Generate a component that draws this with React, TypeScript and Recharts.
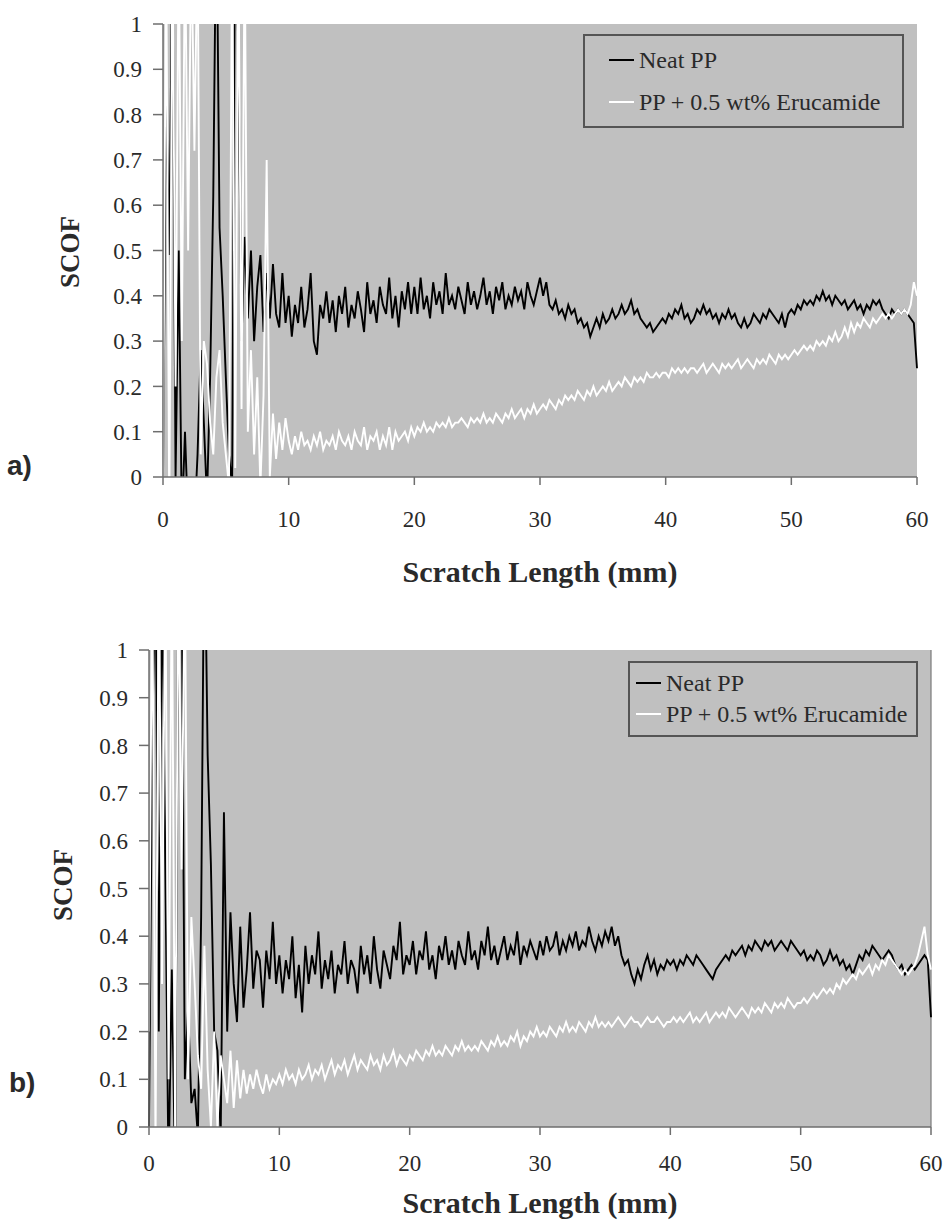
import React from 'react';
import { LineChart, Line, XAxis, YAxis, CartesianGrid, Legend, ReferenceLine } from 'recharts';

// Sampling grid of scratch length (mm), 0.25 mm spacing, 0..60
const X_STEP_MM = 0.25;
const X_COUNT = 241;
const xGrid: number[] = Array.from({ length: X_COUNT }, (_, i) => i * X_STEP_MM);

const xTicks = [0, 10, 20, 30, 40, 50, 60];
const yTicks = [0, 0.1, 0.2, 0.3, 0.4, 0.5, 0.6, 0.7, 0.8, 0.9, 1];

const seriesNames = ['Neat PP', 'PP + 0.5 wt% Erucamide'];

// ---- Panel a) ----
const aNeat0 = [0.0, 0.85, 0.49, 1.2, 0.0, 0.5, -0.1, 0.1, -0.1, -0.1, -0.1, 0.05, 0.28, 0.12, -0.05, 0.22, 0.62, 1.3, 0.55, 0.4, 0.22, 0.05, -0.02, 1.3, 0.93, 0.3, 0.53, 0.35, 0.5, 0.3, 0.42, 0.49, 0.32, 0.45, 0.35, 0.47, 0.36, 0.33, 0.45, 0.34];
const aNeat10 = [0.40, 0.31, 0.38, 0.34, 0.42, 0.33, 0.37, 0.45, 0.30, 0.27, 0.38, 0.35, 0.41, 0.34, 0.39, 0.32, 0.40, 0.36, 0.42, 0.33, 0.38, 0.35, 0.41, 0.37, 0.32, 0.43, 0.36, 0.39, 0.34, 0.42, 0.38, 0.36, 0.44, 0.35, 0.40, 0.33, 0.41, 0.37, 0.43, 0.36];
const aNeat20 = [0.42, 0.36, 0.44, 0.37, 0.40, 0.35, 0.43, 0.38, 0.41, 0.36, 0.45, 0.38, 0.40, 0.37, 0.42, 0.39, 0.36, 0.43, 0.38, 0.41, 0.37, 0.40, 0.44, 0.38, 0.41, 0.36, 0.42, 0.39, 0.43, 0.37, 0.40, 0.38, 0.42, 0.39, 0.41, 0.37, 0.43, 0.40, 0.38, 0.41];
const aNeat30 = [0.44, 0.40, 0.43, 0.38, 0.37, 0.39, 0.36, 0.37, 0.35, 0.38, 0.36, 0.37, 0.34, 0.35, 0.33, 0.34, 0.31, 0.33, 0.35, 0.33, 0.36, 0.34, 0.35, 0.37, 0.35, 0.36, 0.38, 0.36, 0.37, 0.39, 0.36, 0.37, 0.35, 0.34, 0.33, 0.34, 0.32, 0.33, 0.34, 0.35];
const aNeat40 = [0.34, 0.36, 0.35, 0.37, 0.36, 0.38, 0.35, 0.36, 0.34, 0.35, 0.37, 0.36, 0.38, 0.36, 0.37, 0.35, 0.36, 0.34, 0.36, 0.35, 0.37, 0.35, 0.36, 0.34, 0.33, 0.35, 0.33, 0.34, 0.36, 0.35, 0.34, 0.36, 0.35, 0.37, 0.36, 0.35, 0.34, 0.36, 0.33, 0.36];
const aNeat50 = [0.37, 0.36, 0.38, 0.37, 0.39, 0.38, 0.39, 0.38, 0.40, 0.39, 0.41, 0.39, 0.40, 0.38, 0.40, 0.39, 0.38, 0.39, 0.37, 0.38, 0.39, 0.37, 0.38, 0.36, 0.38, 0.37, 0.39, 0.38, 0.39, 0.37, 0.36, 0.35, 0.37, 0.36, 0.37, 0.36, 0.37, 0.36, 0.35, 0.34, 0.24];

const aEru0 = [0.0, 1.2, -0.1, 1.2, 0.2, 1.2, 0.3, 1.2, 0.5, 1.2, 0.72, 1.2, 0.05, 0.3, 0.25, 0.12, 0.05, 0.22, 0.28, 0.12, 0.05, -0.02, 1.2, 0.02, 1.2, 0.15, 1.2, 0.1, 0.28, 0.05, 0.22, -0.02, 0.18, 0.7, 0.0, 0.14, 0.04, 0.12, 0.06, 0.13];
const aEru10 = [0.08, 0.05, 0.09, 0.06, 0.10, 0.07, 0.08, 0.06, 0.09, 0.07, 0.10, 0.06, 0.08, 0.07, 0.09, 0.06, 0.10, 0.08, 0.07, 0.09, 0.06, 0.10, 0.08, 0.07, 0.11, 0.06, 0.09, 0.08, 0.10, 0.06, 0.09, 0.07, 0.11, 0.06, 0.10, 0.08, 0.09, 0.10, 0.08, 0.11];
const aEru20 = [0.09, 0.11, 0.10, 0.12, 0.10, 0.11, 0.10, 0.12, 0.11, 0.12, 0.11, 0.13, 0.11, 0.12, 0.12, 0.13, 0.12, 0.11, 0.13, 0.12, 0.13, 0.12, 0.14, 0.12, 0.13, 0.12, 0.14, 0.13, 0.12, 0.14, 0.13, 0.15, 0.13, 0.14, 0.15, 0.13, 0.15, 0.14, 0.16, 0.14];
const aEru30 = [0.15, 0.16, 0.15, 0.17, 0.16, 0.15, 0.17, 0.16, 0.18, 0.17, 0.18, 0.17, 0.19, 0.18, 0.17, 0.19, 0.18, 0.20, 0.18, 0.19, 0.20, 0.19, 0.21, 0.19, 0.20, 0.21, 0.20, 0.22, 0.21, 0.20, 0.22, 0.21, 0.22, 0.21, 0.23, 0.22, 0.22, 0.23, 0.22, 0.23];
const aEru40 = [0.23, 0.22, 0.24, 0.23, 0.24, 0.23, 0.24, 0.23, 0.24, 0.24, 0.23, 0.24, 0.25, 0.23, 0.24, 0.25, 0.24, 0.23, 0.25, 0.24, 0.25, 0.24, 0.25, 0.26, 0.24, 0.25, 0.26, 0.25, 0.24, 0.26, 0.25, 0.26, 0.25, 0.27, 0.26, 0.25, 0.27, 0.26, 0.27, 0.26];
const aEru50 = [0.27, 0.28, 0.27, 0.28, 0.29, 0.28, 0.29, 0.28, 0.30, 0.29, 0.30, 0.29, 0.31, 0.30, 0.32, 0.30, 0.31, 0.33, 0.31, 0.34, 0.32, 0.34, 0.33, 0.35, 0.34, 0.33, 0.35, 0.34, 0.35, 0.36, 0.35, 0.36, 0.35, 0.36, 0.37, 0.36, 0.37, 0.36, 0.38, 0.43, 0.40];

// ---- Panel b) ----
const bNeat0 = [0.0, 0.81, 1.2, 0.2, 1.2, 0.55, -0.1, 0.33, -0.1, 1.2, 1.2, 0.1, 0.25, 0.05, 0.08, -0.02, 0.44, 1.3, 0.78, 0.55, 0.2, 0.16, -0.02, 0.66, 0.2, 0.45, 0.30, 0.22, 0.42, 0.25, 0.33, 0.45, 0.29, 0.37, 0.35, 0.25, 0.37, 0.31, 0.43, 0.30];
const bNeat10 = [0.36, 0.28, 0.35, 0.31, 0.40, 0.27, 0.34, 0.24, 0.38, 0.30, 0.36, 0.32, 0.41, 0.29, 0.35, 0.31, 0.37, 0.28, 0.34, 0.32, 0.39, 0.30, 0.35, 0.33, 0.28, 0.38, 0.32, 0.36, 0.30, 0.40, 0.33, 0.29, 0.37, 0.34, 0.31, 0.38, 0.35, 0.43, 0.32, 0.36];
const bNeat20 = [0.34, 0.39, 0.32, 0.37, 0.35, 0.41, 0.33, 0.36, 0.31, 0.38, 0.35, 0.40, 0.34, 0.37, 0.33, 0.39, 0.36, 0.34, 0.41, 0.35, 0.37, 0.33, 0.39, 0.36, 0.42, 0.35, 0.38, 0.34, 0.37, 0.40, 0.35, 0.38, 0.36, 0.41, 0.34, 0.38, 0.36, 0.39, 0.37, 0.35];
const bNeat30 = [0.39, 0.36, 0.40, 0.37, 0.38, 0.41, 0.36, 0.39, 0.37, 0.40, 0.38, 0.41, 0.37, 0.39, 0.38, 0.42, 0.39, 0.37, 0.40, 0.38, 0.41, 0.39, 0.42, 0.38, 0.40, 0.36, 0.34, 0.35, 0.32, 0.30, 0.33, 0.31, 0.34, 0.36, 0.33, 0.35, 0.32, 0.34, 0.33, 0.35];
const bNeat40 = [0.34, 0.35, 0.33, 0.35, 0.34, 0.36, 0.35, 0.34, 0.36, 0.35, 0.34, 0.33, 0.32, 0.31, 0.33, 0.34, 0.35, 0.36, 0.35, 0.37, 0.36, 0.37, 0.38, 0.36, 0.38, 0.37, 0.39, 0.38, 0.37, 0.39, 0.38, 0.39, 0.37, 0.38, 0.39, 0.38, 0.37, 0.39, 0.38, 0.37];
const bNeat50 = [0.36, 0.37, 0.35, 0.36, 0.35, 0.37, 0.36, 0.34, 0.35, 0.37, 0.35, 0.36, 0.34, 0.35, 0.33, 0.34, 0.32, 0.34, 0.36, 0.35, 0.37, 0.36, 0.38, 0.37, 0.36, 0.35, 0.36, 0.37, 0.36, 0.34, 0.33, 0.34, 0.32, 0.33, 0.34, 0.33, 0.34, 0.35, 0.36, 0.35, 0.23];

const bEru0 = [0.2, 1.2, -0.05, 1.2, 0.3, 1.2, 0.1, 1.2, 0.0, 1.2, 0.54, 1.2, 0.1, 0.44, 0.3, 0.15, 0.08, 0.38, 0.12, 0.0, 0.2, 0.0, 0.15, 0.1, 0.05, 0.16, 0.04, 0.14, 0.06, 0.12, 0.07, 0.11, 0.08, 0.12, 0.09, 0.07, 0.11, 0.08, 0.10, 0.09];
const bEru10 = [0.11, 0.09, 0.12, 0.10, 0.11, 0.09, 0.12, 0.10, 0.11, 0.13, 0.10, 0.12, 0.11, 0.13, 0.10, 0.12, 0.14, 0.11, 0.13, 0.12, 0.14, 0.11, 0.13, 0.15, 0.12, 0.14, 0.13, 0.12, 0.15, 0.13, 0.14, 0.12, 0.15, 0.13, 0.14, 0.16, 0.13, 0.15, 0.14, 0.13];
const bEru20 = [0.15, 0.14, 0.16, 0.15, 0.14, 0.16, 0.15, 0.17, 0.15, 0.16, 0.15, 0.17, 0.16, 0.15, 0.17, 0.16, 0.18, 0.16, 0.17, 0.16, 0.17, 0.16, 0.18, 0.17, 0.16, 0.18, 0.17, 0.19, 0.17, 0.18, 0.17, 0.19, 0.18, 0.20, 0.17, 0.19, 0.18, 0.20, 0.19, 0.21];
const bEru30 = [0.19, 0.20, 0.19, 0.21, 0.20, 0.19, 0.21, 0.20, 0.22, 0.20, 0.21, 0.20, 0.22, 0.21, 0.20, 0.22, 0.21, 0.23, 0.21, 0.22, 0.21, 0.22, 0.21, 0.22, 0.23, 0.22, 0.21, 0.22, 0.23, 0.22, 0.22, 0.21, 0.22, 0.23, 0.22, 0.22, 0.23, 0.22, 0.21, 0.22];
const bEru40 = [0.22, 0.23, 0.22, 0.23, 0.22, 0.23, 0.24, 0.22, 0.23, 0.22, 0.23, 0.24, 0.22, 0.23, 0.24, 0.23, 0.24, 0.23, 0.25, 0.24, 0.23, 0.24, 0.25, 0.24, 0.23, 0.25, 0.24, 0.25, 0.24, 0.26, 0.25, 0.24, 0.26, 0.25, 0.26, 0.25, 0.27, 0.26, 0.25, 0.26];
const bEru50 = [0.26, 0.27, 0.26, 0.27, 0.28, 0.27, 0.28, 0.29, 0.28, 0.29, 0.28, 0.30, 0.29, 0.31, 0.30, 0.31, 0.32, 0.31, 0.33, 0.32, 0.33, 0.34, 0.32, 0.34, 0.33, 0.35, 0.34, 0.36, 0.35, 0.34, 0.33, 0.32, 0.33, 0.32, 0.33, 0.34, 0.36, 0.39, 0.42, 0.36, 0.33];

const aNeat = [...aNeat0, ...aNeat10, ...aNeat20, ...aNeat30, ...aNeat40, ...aNeat50];
const aEru = [...aEru0, ...aEru10, ...aEru20, ...aEru30, ...aEru40, ...aEru50];
const bNeat = [...bNeat0, ...bNeat10, ...bNeat20, ...bNeat30, ...bNeat40, ...bNeat50];
const bEru = [...bEru0, ...bEru10, ...bEru20, ...bEru30, ...bEru40, ...bEru50];

const buildRows = (neat: number[], eru: number[]) =>
  xGrid.map((x, i) => ({ x, neat: neat[i], eru: eru[i] }));

const dataA = buildRows(aNeat, aEru);
const dataB = buildRows(bNeat, bEru);

const SERIF = '"Liberation Serif", "Times New Roman", serif';
const PLOT_BG = '#c0c0c0';
const AXIS_COLOR = '#6e6e6e';
const TEXT_COLOR = '#2a2a2a';

type LegendGeom = {
  left: number; top: number; width: number; height: number;
  row1: number; row2: number; lineX: number; textX: number;
};

const makeLegend = (g: LegendGeom) => (props: any) => {
  const payload = props.payload || [];
  const rows = [g.row1, g.row2];
  return (
    <div style={{
      position: 'relative', width: g.width, height: g.height, boxSizing: 'border-box',
      border: '2px solid #555555', background: PLOT_BG, fontFamily: SERIF, fontSize: 24, color: TEXT_COLOR,
    }}>
      {payload.map((p: any, i: number) => (
        <div key={i} style={{ position: 'absolute', left: 0, top: rows[i] - 15, height: 30, width: '100%' }}>
          <div style={{ position: 'absolute', left: g.lineX, top: 14, width: 25, height: 2, background: p.color }} />
          <div style={{ position: 'absolute', left: g.textX, top: 0, lineHeight: '30px', whiteSpace: 'nowrap' }}>{p.value}</div>
        </div>
      ))}
    </div>
  );
};

type PanelProps = {
  data: any[];
  top: number;
  height: number;
  margin: { top: number; right: number; bottom: number; left: number };
  yWidth: number;
  xHeight: number;
  xTickMargin: number;
  legend: LegendGeom;
  rightEdge?: boolean;
};

const tickStyle = { fill: TEXT_COLOR, fontSize: 23, fontFamily: SERIF };

const Panel = ({ data, top, height, margin, yWidth, xHeight, xTickMargin, legend, rightEdge }: PanelProps) => (
  <div style={{ position: 'absolute', left: 0, top, width: 949, height }}>
    <LineChart width={949} height={height} data={data} margin={margin}>
      <CartesianGrid horizontal={false} vertical={false} fill={PLOT_BG} stroke="none" />
      <XAxis
        type="number"
        dataKey="x"
        domain={[0, 60]}
        ticks={xTicks}
        height={xHeight}
        tickSize={8}
        tickMargin={xTickMargin}
        stroke={AXIS_COLOR}
        strokeWidth={1.5}
        tick={tickStyle}
      />
      <YAxis
        type="number"
        domain={[0, 1]}
        allowDataOverflow
        ticks={yTicks}
        width={yWidth}
        tickSize={10}
        tickMargin={11}
        stroke={AXIS_COLOR}
        strokeWidth={1.5}
        tick={tickStyle}
      />
      {rightEdge && <ReferenceLine x={60} stroke="#7a7a7a" strokeWidth={1.2} />}
      <Legend
        layout="vertical"
        align="center"
        verticalAlign="middle"
        wrapperStyle={{ position: 'absolute', left: legend.left, top: legend.top - top, width: legend.width, height: legend.height }}
        content={makeLegend(legend)}
      />
      <Line name={seriesNames[0]} type="linear" dataKey="neat" stroke="#000000" strokeWidth={1.9} dot={false} isAnimationActive={false} />
      <Line name={seriesNames[1]} type="linear" dataKey="eru" stroke="#ffffff" strokeWidth={1.9} dot={false} isAnimationActive={false} />
    </LineChart>
  </div>
);

const textBase: React.CSSProperties = { position: 'absolute', whiteSpace: 'nowrap', color: TEXT_COLOR };

export default function App() {
  return (
    <div style={{ position: 'absolute', left: 0, top: 0, width: 949, height: 1224, background: '#ffffff', overflow: 'hidden' }}>
      <Panel
        data={dataA}
        top={0}
        height={600}
        margin={{ top: 24, right: 32, bottom: 43, left: 0 }}
        yWidth={163}
        xHeight={80}
        xTickMargin={26}
        legend={{ left: 583, top: 34, width: 321, height: 94, row1: 24, row2: 66, lineX: 24, textX: 54 }}
      />
      <Panel
        data={dataB}
        top={620}
        height={604}
        margin={{ top: 30, right: 18, bottom: 27, left: 0 }}
        yWidth={149}
        xHeight={70}
        xTickMargin={20}
        legend={{ left: 628, top: 661, width: 290, height: 76, row1: 20, row2: 51, lineX: 6, textX: 36 }}
        rightEdge
      />
      {/* axis titles */}
      <div style={{ ...textBase, left: 70, top: 252, transform: 'translate(-50%, -50%) rotate(-90deg)', fontFamily: SERIF, fontWeight: 700, fontSize: 27 }}>SCOF</div>
      <div style={{ ...textBase, left: 540, top: 572, transform: 'translate(-50%, -50%)', fontFamily: SERIF, fontWeight: 700, fontSize: 30 }}>Scratch Length (mm)</div>
      <div style={{ ...textBase, left: 63, top: 885, transform: 'translate(-50%, -50%) rotate(-90deg)', fontFamily: SERIF, fontWeight: 700, fontSize: 27 }}>SCOF</div>
      <div style={{ ...textBase, left: 540, top: 1203, transform: 'translate(-50%, -50%)', fontFamily: SERIF, fontWeight: 700, fontSize: 30 }}>Scratch Length (mm)</div>
      {/* panel labels */}
      <div style={{ ...textBase, left: 7, top: 466, transform: 'translateY(-50%)', fontFamily: '"Liberation Sans", Arial, sans-serif', fontWeight: 700, fontSize: 28 }}>a)</div>
      <div style={{ ...textBase, left: 9, top: 1083, transform: 'translateY(-50%)', fontFamily: '"Liberation Sans", Arial, sans-serif', fontWeight: 700, fontSize: 28 }}>b)</div>
    </div>
  );
}
